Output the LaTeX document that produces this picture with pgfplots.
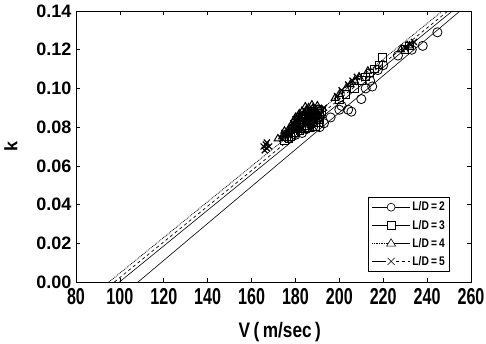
\documentclass[border=0pt]{standalone}
\usepackage{fontspec}
\setmainfont{Liberation Sans}
\newfontfamily\xfont{Liberation Sans}[FakeStretch=0.7]
\newfontfamily\lfont{Liberation Sans}[FakeStretch=0.82]
\usepackage{pgfplots}
\pgfplotsset{compat=1.18}
\begin{document}
\begin{tikzpicture}
\useasboundingbox (-76pt,-62pt) rectangle (410pt,282pt);
\begin{axis}[
  at={(0,0)}, anchor=south west,
  scale only axis, width=395pt, height=271pt,
  xmin=80, xmax=260, ymin=0, ymax=0.14,
  xtick={80,100,...,260}, ytick={0,0.02,...,0.14},
  /pgf/number format/assume math mode=true,
  yticklabel style={/pgf/number format/.cd, fixed, fixed zerofill, precision=2,
     /tikz/.cd, font=\fontsize{18}{20}\selectfont\bfseries, xshift=-1pt},
  xticklabel style={font=\xfont\fontsize{23}{24}\selectfont\bfseries, yshift=-3pt},
  tick style={black, line width=0.6pt}, major tick length=4pt,
  axis line style={line width=0.8pt},
  scaled y ticks=false,
  xlabel={V\,(\,m/sec\,)}, ylabel={k},
  xlabel style={font=\lfont\fontsize{21}{22}\selectfont\bfseries,
     at={(axis description cs:0.516,-0.185)}, anchor=center},
  ylabel style={font=\fontsize{18}{20}\selectfont\bfseries,
     at={(axis description cs:-0.165,0.5)}, anchor=center},
  legend style={at={(0.947,0.037)}, anchor=south east, font=\lfont\fontsize{12.5}{14}\selectfont\bfseries,
     draw=black, line width=0.6pt, row sep=3.5pt, inner xsep=3pt, inner ysep=3pt},
  legend cell align=left,
  clip=true,
]
% fitted lines
\addplot[black, line width=0.6pt, forget plot] coordinates {(108.3,0) (255,0.14)};
\addplot[black, line width=0.6pt, forget plot] coordinates {(99.8,0) (251.5,0.14)};
\addplot[black, line width=0.8pt, densely dotted, forget plot] coordinates {(95,0) (247,0.14)};
\addplot[black, line width=0.7pt, dashed, forget plot] coordinates {(97.5,0) (249.5,0.14)};

% L/D=2 circles
\addplot[only marks, mark=o, mark size=4.6pt, black, line width=0.8pt,
  legend image code/.code={\draw[black,line width=0.6pt] (0pt,0pt) -- (38pt,0pt);
     \draw[black,line width=0.6pt,fill=white] (19pt,0pt) circle (4pt);}]
 coordinates {(178,0.075)(180,0.076)(183,0.077)(185,0.079)(186,0.082)(187,0.084)(188,0.080)
 (190,0.086)(191,0.080)(193,0.082)(196,0.085)(200,0.089)(201,0.091)(204,0.089)(205.5,0.088)
 (210,0.0945)(212,0.100)(214,0.104)(215,0.101)(217.5,0.1095)(220,0.112)(226.7,0.117)
 (233,0.120)(238,0.122)(244.7,0.129)};
\addlegendentry{L/D\,=\,2}

% L/D=3 squares
\addplot[only marks, mark=square, mark size=3.8pt, black, line width=1pt,
  legend image code/.code={\draw[black,line width=0.6pt] (0pt,0pt) -- (38pt,0pt);
     \draw[black,line width=0.6pt,fill=white] (15pt,-4pt) rectangle (23pt,4pt);}]
 coordinates {(175,0.073)(176,0.075)(177,0.074)(178,0.075)(179,0.077)(180,0.077)(180,0.080)
 (181,0.079)(182,0.078)(182,0.082)(183,0.083)(183,0.080)(184,0.079)(184,0.084)(185,0.081)
 (185,0.086)(186,0.086)(186,0.083)(187,0.082)(187,0.088)(188,0.084)(188,0.087)(189,0.080)
 (189,0.086)(190,0.085)(190,0.089)(191,0.087)(191,0.084)(192,0.088)
 (181.5,0.0815)(183.5,0.0855)(186.5,0.0795)(188.5,0.0825)(190.5,0.0825)(178.5,0.079)
 (200,0.094)(203,0.097)(207,0.100)(210,0.104)(212,0.106)(214,0.108)(216,0.110)
 (218,0.112)(219.8,0.116)(230,0.120)(232,0.122)};
\addlegendentry{L/D\,=\,3}

% L/D=4 triangles
\addplot[only marks, mark=triangle, mark size=4.3pt, black, line width=1pt,
  legend image code/.code={\draw[black,line width=0.7pt,densely dotted] (0pt,0pt) -- (19pt,0pt);
     \draw[black,line width=0.6pt] (19pt,0pt) -- (38pt,0pt);
     \draw[black,line width=0.6pt,fill=white] (14.5pt,-2.8pt) -- (23.5pt,-2.8pt) -- (19pt,4.5pt) -- cycle;}]
 coordinates {(172,0.074)(174,0.075)(175,0.078)(176,0.076)(177,0.079)(178,0.081)(179,0.079)
 (180,0.082)(180,0.085)(181,0.080)(182,0.087)(182,0.084)(183,0.083)(183,0.088)(184,0.086)
 (185,0.085)(185,0.089)(186,0.090)(186,0.087)(187,0.086)(188,0.084)(188,0.090)(189,0.088)
 (190,0.083)(190,0.091)(191,0.089)(192,0.086)
 (179.5,0.0835)(181.5,0.0865)(184.5,0.0905)(187.5,0.0915)(189.5,0.0855)(176.5,0.077)
 (198,0.095)(200,0.097)(203,0.100)(205,0.102)(207,0.104)(209,0.106)
 (213,0.109)(228,0.120)(232,0.122)};
\addlegendentry{L/D\,=\,4}

% L/D=5 crosses
\addplot[only marks, mark=x, mark size=4.3pt, black, line width=1.2pt,
  legend image code/.code={\draw[black,line width=0.6pt] (0pt,0pt) -- (14pt,0pt);
     \draw[black,line width=0.6pt,dashed] (24pt,0pt) -- (38pt,0pt);
     \draw[black,line width=0.6pt] (15.5pt,-3.5pt) -- (22.5pt,3.5pt) (15.5pt,3.5pt) -- (22.5pt,-3.5pt);}]
 coordinates {(166,0.068)(166.5,0.071)(167,0.069)(168,0.070)(167,0.072)(165.5,0.070)
 (174,0.074)(175,0.077)(176,0.077)(177,0.076)(178,0.079)(179,0.082)(180,0.078)(180,0.084)
 (181,0.084)(181,0.080)(182,0.081)(182,0.086)(183,0.087)(183,0.079)(184,0.083)(184,0.089)
 (185,0.088)(185,0.082)(186,0.085)(187,0.080)(187,0.089)(188,0.087)(188,0.082)(189,0.083)
 (189,0.090)(190,0.088)(191,0.086)(193,0.090)
 (178.5,0.0805)(180.5,0.0815)(182.5,0.0835)(184.5,0.0855)(186.5,0.0875)(188.5,0.0845)(190.5,0.0865)
 (199,0.096)(201,0.099)
 (204,0.102)(206,0.104)(208,0.106)(230,0.121)(232,0.123)(234,0.124)};
\addlegendentry{L/D\,=\,5}
\end{axis}
\end{tikzpicture}
\end{document}
